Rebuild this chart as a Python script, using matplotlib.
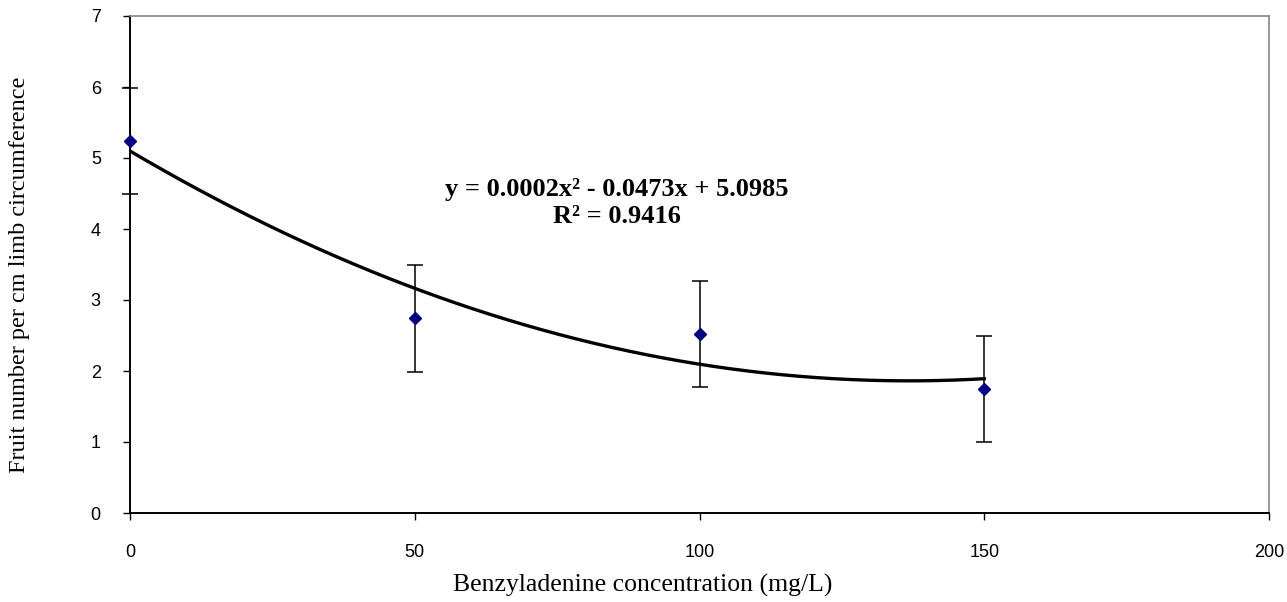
import matplotlib; matplotlib.use("Agg")
import matplotlib.pyplot as plt
import numpy as np

# data
conc = np.array([0, 50, 100, 150])              # benzyladenine, mg/L
fruit = np.array([5.24, 2.74, 2.52, 1.75])      # fruit number per cm limb circumference
err = np.array([0.75, 0.75, 0.75, 0.75])
eq_text = "y = 0.0002x² - 0.0473x + 5.0985\nR² = 0.9416"

fig = plt.figure(figsize=(12.87, 6.02), dpi=100)
ax = fig.add_axes([130 / 1287, 1 - 513 / 602, (1269 - 130) / 1287, (513 - 16) / 602])

# quadratic trendline (Excel-style poly order 2)
coef = np.polyfit(conc, fruit, 2)
xs = np.linspace(conc.min(), conc.max(), 200)
ax.plot(xs, np.polyval(coef, xs), color="black", lw=2.4, zorder=2)

eb = ax.errorbar(conc, fruit, yerr=err, fmt="none", ecolor="black", elinewidth=1.1,
                 capsize=6, capthick=1.1, zorder=5)
for art in list(eb.lines[1]) + list(eb.lines[2]):
    art.set_clip_on(False)
ax.plot(conc, fruit, "D", color="#000080", ms=6.5, zorder=6, clip_on=False)

ax.set_xlim(0, 200); ax.set_ylim(0, 7)
ax.set_xticks(range(0, 201, 50)); ax.set_yticks(range(0, 8))
ax.tick_params(axis="both", direction="out", length=5, width=1, labelsize=13, color="black")
ax.tick_params(axis="x", pad=17); ax.tick_params(axis="y", pad=16)
for lab in ax.get_xticklabels() + ax.get_yticklabels():
    lab.set_fontfamily("Liberation Sans")
for s in ["left", "bottom"]:
    ax.spines[s].set_color("black"); ax.spines[s].set_linewidth(1.4)
for s in ["top", "right"]:
    ax.spines[s].set_color("#888888"); ax.spines[s].set_linewidth(1.2)

ax.text(0.4276, 0.624, eq_text, transform=ax.transAxes, ha="center", va="center",
        fontsize=19, fontweight="bold", family="Liberation Serif", linespacing=1.25)

fig.text(0.5 * (453 + 833) / 1287, 1 - 585 / 602, "Benzyladenine concentration (mg/L)",
         ha="center", va="center", fontsize=18.5, family="Liberation Serif")
fig.text(20 / 1287, 1 - 275 / 602, "Fruit number per cm limb circumference", rotation=90,
         ha="center", va="center", fontsize=17.5, family="Liberation Serif")

fig.savefig("out.png", dpi=100)
